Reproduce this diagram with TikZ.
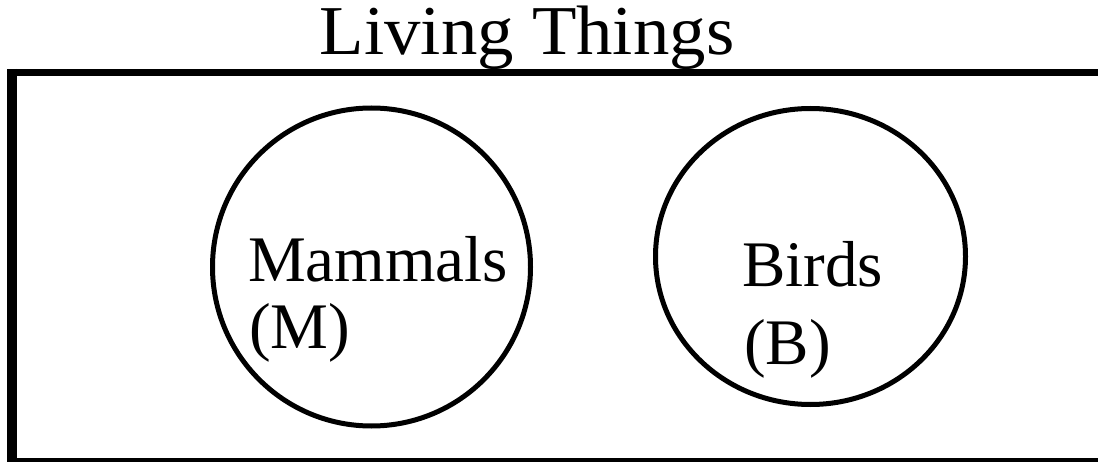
\documentclass[tikz,border=0pt]{standalone}
\usepackage{fontspec}
\setmainfont{Liberation Serif}
\usepackage{tikz}

\begin{document}
\begin{tikzpicture}[x=1pt,y=1pt,set/.style={draw=black,line width=5pt},lbl/.style={anchor=base west,inner sep=0pt,font=\fontsize{65}{70}\selectfont}]
  \def\mx{371.5}
  \def\my{194}
  \def\bx{810.5}
  \def\by{204.5}
  \useasboundingbox (0,0) rectangle (1098,461);
  \node[anchor=base,inner sep=0pt,font=\fontsize{70}{75}\selectfont,xscale=1.04] (title) at (527,406) {Living Things};
  \draw[line width=7pt] (1110,388.5) -- (9,388.5);
  \draw[line width=10pt] (12,392) -- (12,-4);
  \draw[line width=7pt] (9,0) -- (1110,0);
  \draw[set] (\mx,\my) circle[radius=159];
  \draw[set] (\bx,\by) ellipse[x radius=155,y radius=148];
  \node[lbl] (mammals) at (248,179) {Mammals};
  \node[lbl] (mlet) at (249,113) {(M)};
  \node[lbl] (birds) at (742,174) {Birds};
  \node[lbl] (blet) at (744,96) {(B)};
\end{tikzpicture}
\end{document}
